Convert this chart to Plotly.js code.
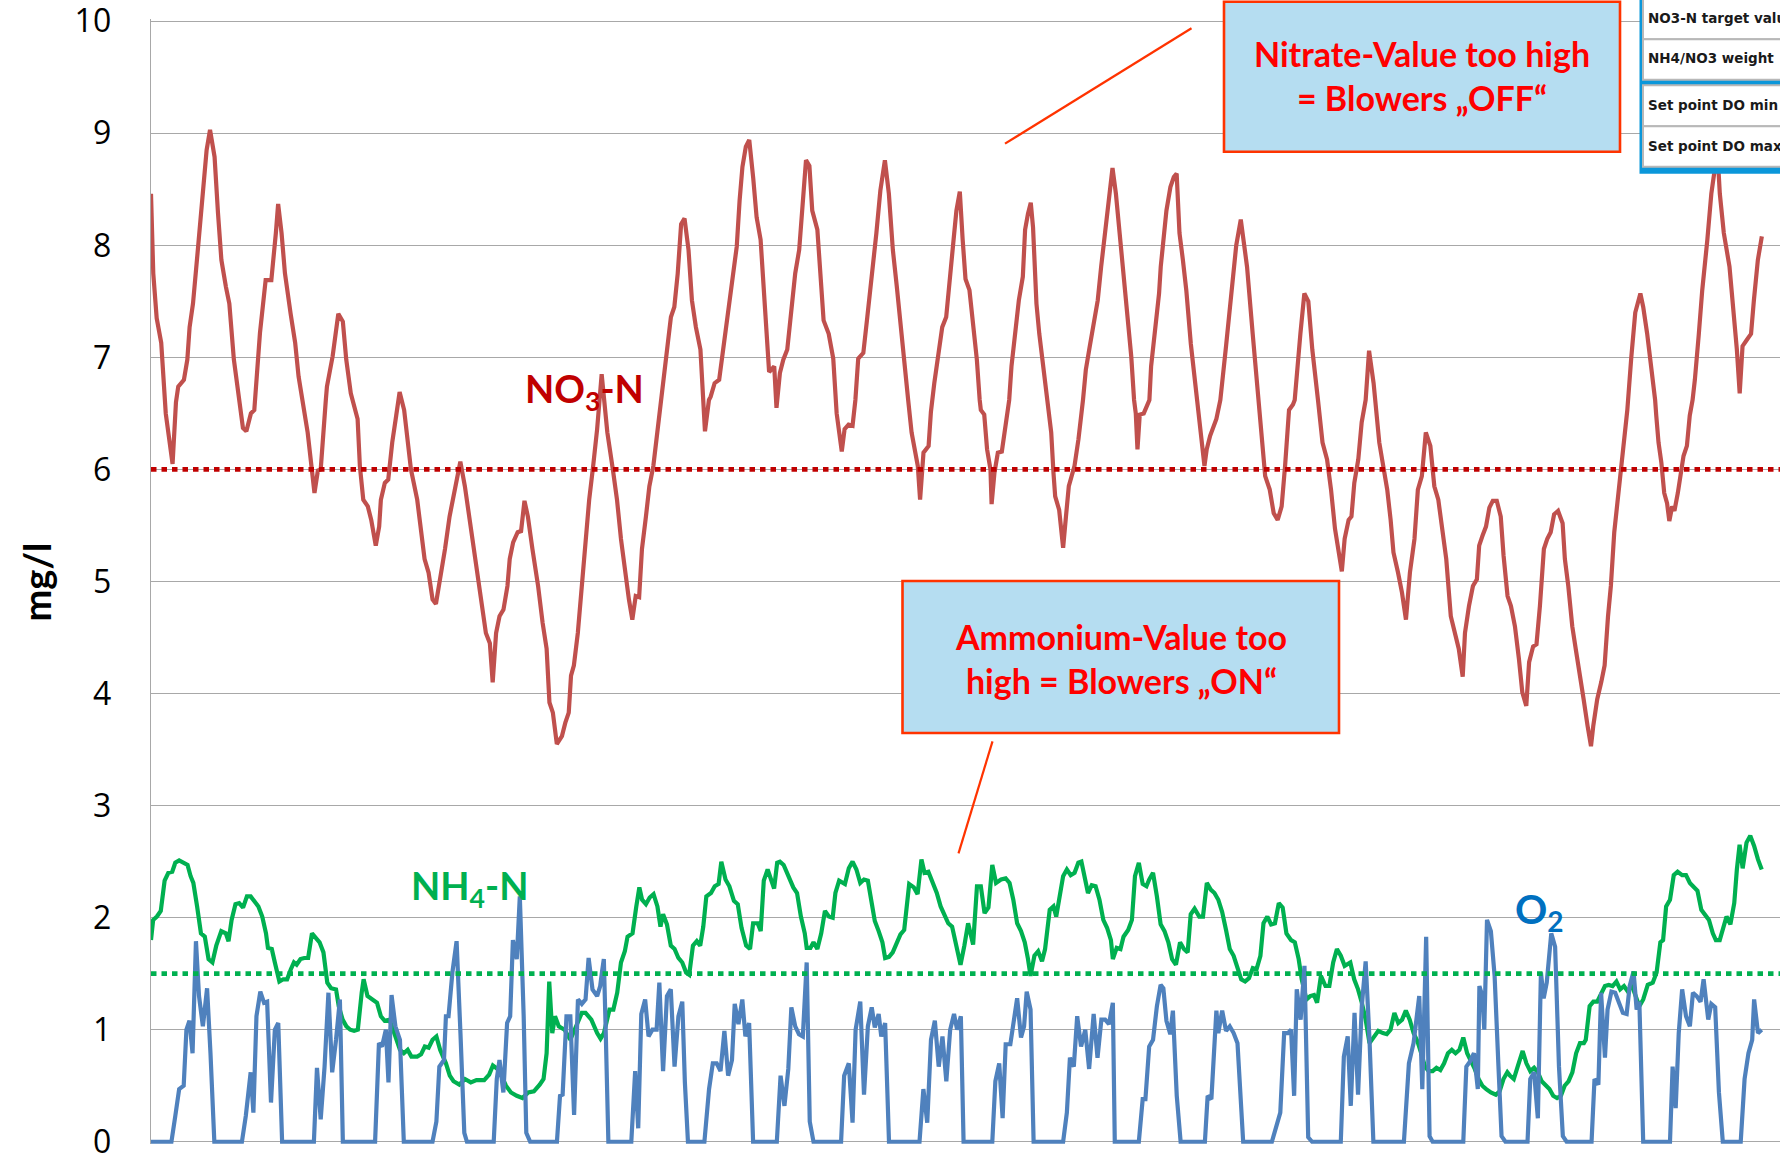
<!DOCTYPE html>
<html><head><meta charset="utf-8">
<script src="https://cdn.plot.ly/plotly-3.0.1.min.js"></script>
<style>html,body{margin:0;padding:0;background:#fff}#chart{width:1780px;height:1156px}</style>
</head><body><div id="chart"></div>
<script>
// ---------- DATA (time in samples, values in mg/l) ----------
const no3Points = [[0,8.46],[2,7.75],[5,7.35],[9,7.13],[13,6.5],[19,6.05],[22,6.6],[24,6.74],[29,6.8],[32,6.98],[34,7.27],[37,7.48],[41,7.93],[44,8.29],[49,8.85],[52,9.03],[56,8.79],[59,8.29],[62,7.87],[66,7.63],[69,7.48],[73,6.98],[78,6.55],[81,6.37],[84,6.34],[88,6.5],[91,6.53],[96,7.22],[101,7.69],[106,7.69],[110,8.11],[112,8.37],[115,8.11],[118,7.75],[123,7.39],[127,7.13],[130,6.83],[133,6.62],[138,6.33],[142,5.97],[144,5.79],[147,5.99],[149.5,6.0],[154,6.62],[155,6.74],[160,7.01],[165,7.39],[169,7.32],[172,6.98],[176,6.68],[182,6.45],[184,6.03],[187,5.73],[191,5.67],[194,5.55],[198,5.32],[201,5.49],[202.5,5.73],[206,5.88],[209,5.91],[212.5,6.24],[216,6.48],[219,6.69],[223,6.53],[226,6.27],[229,6.0],[234.5,5.73],[238,5.47],[241,5.2],[244.5,5.08],[248,4.84],[251,4.8],[255,5.02],[259,5.29],[263,5.58],[268,5.85],[272.5,6.07],[276.5,5.85],[282,5.47],[287,5.11],[292,4.75],[295,4.54],[298.5,4.45],[301,4.1],[304,4.54],[307,4.69],[310.5,4.75],[314,4.96],[316,5.2],[319,5.35],[323,5.44],[326,5.45],[329,5.72],[332,5.58],[336,5.29],[341,4.96],[345,4.63],[348.5,4.4],[351,3.92],[354,3.83],[357.5,3.55],[362,3.62],[365,3.74],[368,3.83],[370,4.16],[372.5,4.25],[376,4.54],[379.5,4.99],[383,5.44],[386,5.73],[389.5,6.03],[393,6.36],[397,6.85],[402,6.33],[407,5.99],[410.5,5.73],[414,5.38],[417.5,5.08],[421,4.84],[424,4.66],[427,4.87],[430,4.86],[432.5,5.29],[436,5.58],[439,5.85],[442.5,6.03],[446,6.33],[449.5,6.62],[451,6.74],[454.5,7.07],[458,7.36],[461,7.45],[464,7.75],[467,8.19],[470,8.24],[473.5,7.96],[476.5,7.51],[480,7.27],[484,7.07],[488,6.34],[491.5,6.62],[493,6.65],[496.5,6.77],[500.5,6.8],[503.5,7.04],[507,7.33],[512,7.72],[516,7.99],[518.5,8.4],[521,8.7],[524,8.88],[527,8.94],[530.5,8.6],[533.5,8.25],[537,8.05],[540,7.57],[542,7.21],[544.5,6.87],[549,6.92],[551,6.55],[554,6.86],[557,6.98],[560.5,7.07],[564,7.39],[567.5,7.75],[571,7.96],[573.5,8.28],[577,8.76],[580,8.71],[582.5,8.31],[587,8.14],[589.5,7.75],[592.5,7.33],[597,7.21],[601,6.99],[604,6.5],[608.5,6.16],[611,6.36],[614.5,6.4],[618,6.39],[620.5,6.62],[623,6.99],[627.5,7.04],[631,7.36],[635,7.72],[639,8.11],[642.5,8.49],[646.5,8.76],[650,8.46],[653.5,7.96],[657,7.63],[660,7.3],[663.5,6.98],[667,6.62],[670,6.33],[672.5,6.21],[675.5,6.03],[677.5,5.73],[680.5,6.15],[685,6.21],[687,6.51],[690,6.77],[694,7.04],[697,7.27],[700.5,7.36],[704,7.69],[707,8.05],[709.5,8.31],[712.5,8.48],[715,8.05],[717.5,7.7],[721,7.6],[724,7.33],[727.5,6.98],[730,6.62],[731,6.53],[734,6.49],[736.5,6.18],[739.5,6.0],[740.5,5.69],[743,5.97],[746,6.15],[749.5,6.16],[753,6.39],[756,6.62],[758,6.92],[761,7.21],[764.5,7.51],[768,7.72],[770,8.14],[772.5,8.28],[775,8.38],[777,8.16],[780,7.48],[782.5,7.21],[786,6.92],[790,6.62],[793,6.33],[795,5.97],[796.5,5.76],[800,5.64],[803.5,5.3],[806,5.58],[808.5,5.85],[813.5,6.03],[817,6.27],[821,6.62],[823.5,6.89],[827,7.1],[830.5,7.33],[834,7.51],[837,7.81],[840.5,8.11],[843,8.28],[844.5,8.46],[847,8.69],[850,8.46],[854,8.05],[857.5,7.63],[861,7.33],[863.5,7.01],[866,6.62],[867.5,6.5],[869,6.18],[871,6.49],[874.5,6.5],[877,6.56],[879.5,6.62],[881,6.92],[884.5,7.24],[888,7.57],[889.5,7.81],[892,8.05],[894.5,8.31],[898,8.52],[901,8.61],[903.5,8.64],[906,8.11],[909,7.87],[912,7.6],[916,7.12],[920,6.75],[924,6.45],[928,6.03],[930,6.18],[933,6.3],[938.5,6.45],[942,6.62],[947,7.1],[952,7.6],[956,8.0],[960,8.23],[965.5,7.81],[970.5,7.21],[975.5,6.62],[979,6.24],[981.5,5.94],[985.5,5.82],[989,5.61],[992.5,5.55],[996,5.67],[999,6.03],[1002.5,6.53],[1006,6.58],[1007.5,6.62],[1012.5,7.21],[1016,7.57],[1019.5,7.5],[1023,7.07],[1028,6.62],[1032,6.24],[1036,6.09],[1039.5,5.82],[1043,5.47],[1046.5,5.26],[1049,5.09],[1051.5,5.38],[1055,5.55],[1057.5,5.58],[1060,5.88],[1063.5,6.09],[1066.5,6.42],[1070,6.62],[1073,7.06],[1077,6.77],[1078.5,6.62],[1082,6.24],[1085,6.06],[1089,5.82],[1092,5.55],[1094.5,5.26],[1098.5,5.08],[1102,4.9],[1105.5,4.66],[1109,5.08],[1113,5.38],[1116,5.82],[1119.5,5.94],[1123,6.33],[1127,6.21],[1130.5,5.85],[1134,5.73],[1137.5,5.49],[1141,5.2],[1145,4.69],[1148.5,4.54],[1152,4.4],[1155.5,4.15],[1157.5,4.54],[1161,4.78],[1164.5,4.96],[1168,5.02],[1170,5.32],[1173,5.41],[1176,5.49],[1179,5.66],[1182,5.72],[1185.5,5.72],[1189,5.58],[1191.5,5.23],[1195,4.87],[1198,4.78],[1201.5,4.6],[1205,4.31],[1208,4.01],[1211.5,3.89],[1214,4.28],[1217.5,4.42],[1220.5,4.44],[1223.5,4.78],[1227,5.29],[1230,5.38],[1233,5.44],[1236,5.6],[1239.5,5.63],[1243.5,5.52],[1245.5,5.2],[1248.5,4.96],[1252,4.6],[1255.5,4.37],[1259,4.16],[1262,3.95],[1265.5,3.71],[1268.5,3.53],[1270.5,3.71],[1274,3.95],[1277.5,4.1],[1280.5,4.25],[1283.5,4.69],[1286,4.96],[1289,5.44],[1292.5,5.79],[1295,6.0],[1297.5,6.27],[1300.5,6.53],[1304,7.0],[1307.5,7.4],[1312,7.57],[1314.5,7.45],[1318,7.21],[1323,6.83],[1325,6.62],[1326,6.48],[1328,6.24],[1330.5,6.06],[1333,5.79],[1335.5,5.7],[1337.5,5.54],[1340,5.67],[1342,5.63],[1345,5.79],[1347.5,5.97],[1350,6.12],[1353,6.21],[1355.5,6.48],[1358,6.62],[1360,6.8],[1363.5,7.21],[1366.5,7.6],[1371,8.05],[1374.5,8.46],[1377,8.64],[1379,9.0],[1382,8.46],[1385.5,8.11],[1390.5,7.81],[1393.5,7.51],[1397,7.07],[1399.5,6.68],[1402,7.1],[1406,7.16],[1409.5,7.21],[1412,7.51],[1415.5,7.87],[1419,8.08]];

const nh4Points = [[0,1.80],[1.9,1.98],[5.2,2.01],[8.6,2.06],[12,2.33],[15.3,2.40],[18.7,2.41],[21.4,2.49],[24.8,2.51],[28.8,2.49],[32.2,2.47],[34.9,2.37],[37.3,2.31],[40.6,2.10],[44,1.86],[47.4,1.83],[50.7,1.63],[54.1,1.60],[57.5,1.75],[61.9,1.88],[65.9,1.86],[68.3,1.79],[71,1.98],[74.4,2.12],[77.7,2.13],[81.1,2.09],[84.5,2.19],[87.8,2.19],[91.2,2.15],[94.6,2.10],[98,2.01],[101.3,1.86],[103,1.73],[106.4,1.72],[109.1,1.60],[111.4,1.48],[113.1,1.43],[116.5,1.45],[119.9,1.45],[123.2,1.54],[125.9,1.60],[128.3,1.58],[131.7,1.63],[135,1.64],[138.4,1.64],[141.8,1.86],[145.2,1.82],[148.5,1.78],[151.9,1.69],[155.3,1.42],[158.6,1.37],[163,1.36],[165.4,1.21],[168.8,1.09],[172.1,1.03],[175.5,1.00],[178.9,0.99],[182.2,1.00],[185.6,1.33],[187.3,1.45],[190.7,1.30],[194,1.28],[199.1,1.24],[202.5,1.12],[205.8,1.08],[210.2,1.09],[214.3,0.97],[219.3,0.82],[222.7,0.79],[226.1,0.82],[229.4,0.76],[234.5,0.76],[237.9,0.78],[241.2,0.85],[244.6,0.84],[248,0.91],[251.4,0.94],[254.7,0.82],[259.8,0.70],[263.2,0.59],[266.5,0.54],[271.6,0.51],[276.6,0.56],[281.7,0.53],[286.7,0.55],[293.5,0.55],[297.9,0.60],[301.2,0.68],[305.3,0.65],[308.7,0.59],[312.7,0.50],[317.1,0.44],[322.2,0.41],[327.2,0.39],[332.3,0.44],[337.3,0.45],[342.4,0.51],[345.8,0.56],[348.5,0.79],[350.8,1.43],[353.5,0.97],[355.9,1.12],[359.2,1.03],[364.3,1.00],[369.4,0.91],[374.4,1.03],[379.5,1.15],[382.8,1.15],[387.9,1.09],[393,0.97],[396,0.92],[399,0.97],[403.9,1.18],[407.3,1.18],[410.7,1.33],[414,1.60],[417.4,1.70],[419.8,1.83],[424.2,1.86],[427.5,2.10],[430.2,2.27],[432.6,2.16],[436,2.12],[439.3,2.18],[442.7,2.21],[446.1,2.10],[448.8,1.92],[451.1,2.03],[454.5,1.94],[457.9,1.75],[461.2,1.72],[464.6,1.64],[468,1.60],[471.4,1.51],[474.1,1.49],[477.4,1.75],[480.8,1.79],[483.8,1.75],[486.5,1.92],[489.2,2.19],[493.3,2.22],[496.6,2.28],[500,2.30],[502.4,2.50],[506.1,2.34],[509.5,2.28],[513.5,2.15],[516.9,2.12],[520.2,1.91],[524.3,1.75],[527.7,1.72],[530.4,1.95],[534.4,1.95],[537.1,1.88],[539.8,2.33],[543.2,2.43],[546.5,2.34],[548.9,2.26],[551.6,2.49],[554,2.50],[557.3,2.47],[561.4,2.37],[565.8,2.27],[569.1,2.22],[572.5,2.01],[575.9,1.86],[577.6,1.73],[580.9,1.73],[583.6,1.78],[587,1.72],[590.4,1.86],[593.7,2.06],[597.1,2.01],[600.5,2.00],[602.9,2.22],[606.2,2.33],[611.3,2.30],[614.7,2.44],[618,2.50],[621.4,2.43],[624.8,2.31],[628.1,2.34],[631.5,2.33],[634.9,2.13],[637.6,1.97],[641,1.88],[644.3,1.78],[646.7,1.64],[650.1,1.65],[653.4,1.69],[656.8,1.78],[660.2,1.85],[663.5,1.89],[667.9,2.30],[672,2.27],[675.3,2.21],[678.7,2.52],[681.4,2.40],[684.8,2.41],[688.1,2.33],[692.2,2.22],[695.6,2.10],[699,2.03],[702.3,1.95],[705.7,1.92],[709.1,1.75],[713.1,1.58],[716.5,1.75],[719.8,1.95],[724.2,1.76],[727.6,2.28],[731,2.28],[734.3,2.04],[737.7,2.09],[741.1,2.47],[744.4,2.31],[748.8,2.34],[752.9,2.35],[756.3,2.31],[759.6,2.16],[763,1.95],[766.4,1.88],[769.7,1.78],[772.4,1.64],[774.8,1.48],[778.2,1.66],[781.5,1.70],[784.9,1.61],[787.6,1.72],[791.7,2.07],[795,2.10],[797.4,2.01],[800.1,2.16],[803.5,2.37],[806.8,2.43],[810.2,2.38],[813.6,2.40],[816.9,2.49],[819.6,2.50],[822,2.38],[825.4,2.22],[828.7,2.29],[832.1,2.28],[835.5,2.16],[838.9,1.98],[842.2,1.91],[845.6,1.80],[847.3,1.63],[850.7,1.73],[854,1.72],[856.7,1.83],[860.8,1.89],[864.1,1.98],[866.8,2.37],[870.2,2.49],[873.6,2.30],[876.9,2.28],[879.3,2.34],[882.7,2.40],[886.1,2.19],[889.4,1.94],[892.8,1.88],[896.2,1.78],[899.5,1.63],[902.9,1.58],[906.5,1.78],[909.9,1.72],[913.2,1.69],[915.9,2.03],[919.3,2.08],[923.4,2.01],[926.7,2.01],[930.1,2.31],[933.5,2.25],[936.8,2.22],[940.2,2.16],[943.6,2.05],[947,1.89],[950.3,1.72],[953.7,1.66],[957.1,1.54],[960.4,1.45],[963.8,1.43],[967.2,1.46],[970.6,1.55],[973.9,1.54],[977.3,1.66],[980,1.95],[983.4,2.01],[986.7,1.94],[990.1,1.95],[993.5,2.13],[996.9,2.09],[1000.2,1.86],[1004.3,1.80],[1007.6,1.78],[1011,1.63],[1013.7,1.45],[1017.8,1.27],[1021.1,1.30],[1024.5,1.31],[1027.2,1.24],[1030.6,1.48],[1034.6,1.39],[1038,1.39],[1041.4,1.60],[1044.7,1.72],[1048.1,1.66],[1051.5,1.57],[1056.5,1.60],[1059.9,1.45],[1063.3,1.36],[1066.6,1.24],[1070,1.09],[1073.4,0.88],[1076.8,0.93],[1081.1,0.99],[1085.2,0.97],[1088.6,0.96],[1091.9,1.00],[1095.3,1.15],[1098.7,1.06],[1102.1,1.09],[1105.4,1.17],[1108.8,1.09],[1112.2,0.97],[1115.5,0.90],[1118.9,0.79],[1122.3,0.67],[1125.6,0.63],[1129,0.63],[1132.4,0.66],[1135.8,0.64],[1139.1,0.70],[1142.5,0.79],[1145.9,0.82],[1149.2,0.79],[1152.6,0.82],[1156,0.93],[1159.4,0.79],[1162.7,0.73],[1166.1,0.65],[1169.5,0.56],[1172.8,0.50],[1176.2,0.47],[1180.3,0.44],[1184.7,0.42],[1188,0.45],[1191.4,0.56],[1194.8,0.62],[1197.1,0.59],[1200.5,0.56],[1203.9,0.67],[1208.3,0.81],[1211.6,0.70],[1215,0.63],[1218.4,0.66],[1221.7,0.62],[1225.1,0.54],[1228.5,0.50],[1231.9,0.47],[1235.2,0.41],[1238.6,0.39],[1242,0.41],[1245.3,0.50],[1248.7,0.54],[1252.1,0.62],[1255.4,0.79],[1258.8,0.88],[1262.2,0.88],[1263.9,0.91],[1267.3,1.21],[1270.6,1.25],[1274,1.25],[1277.4,1.33],[1280.8,1.39],[1284.1,1.40],[1287.5,1.39],[1290.9,1.43],[1294.2,1.36],[1297.6,1.39],[1301,1.34],[1304.3,1.40],[1307.7,1.31],[1311.1,1.21],[1314.5,1.27],[1318.5,1.40],[1322.9,1.42],[1326.3,1.51],[1329.6,1.78],[1332,1.80],[1334.7,2.10],[1338.1,2.16],[1341.4,2.38],[1344.8,2.41],[1348.8,2.38],[1352.2,2.38],[1355.6,2.31],[1358.3,2.28],[1362.3,2.24],[1365.7,2.07],[1369.1,2.03],[1372.4,1.98],[1375.8,1.86],[1378.5,1.80],[1381.9,1.80],[1385.2,1.91],[1387.9,2.01],[1391.3,1.94],[1394.7,2.13],[1397,2.43],[1399.4,2.65],[1402.1,2.44],[1405.5,2.67],[1408.8,2.73],[1412.2,2.64],[1415.6,2.52],[1418.9,2.43]];

const o2Points = [[0,0],[18,0],[21.4,0.23],[24.8,0.47],[28.8,0.50],[31.2,1.00],[33.9,1.08],[36.6,0.79],[39.6,1.79],[42.3,1.30],[45.7,1.03],[49.4,1.37],[52.4,0.79],[55.8,0],[80.1,0],[83.5,0.23],[87.8,0.62],[90.2,0.26],[92.9,1.12],[96.3,1.34],[99.6,1.24],[102.3,1.25],[105.7,0.35],[109.1,1.00],[112.1,1.06],[115.5,0],[143.5,0],[146.2,0.66],[149.5,0.20],[152.9,0.67],[156.3,1.33],[159.6,0.62],[163,0.91],[166.4,1.27],[169,0],[197.4,0],[200.8,0.88],[203.5,0.85],[206.9,1.00],[209.2,0.53],[211.9,1.31],[215.3,1.03],[219.3,0.91],[222.7,0],[248,0],[251.4,0.18],[254,0.67],[258.1,0.73],[259.8,1.12],[262.1,1.12],[265.5,1.51],[269.2,1.79],[272.6,0.97],[276,0.08],[278.3,0],[301.9,0],[304.6,0.56],[307,0.73],[310.4,0.44],[313.7,1.06],[316.4,1.12],[318.8,1.80],[322.2,1.63],[324.9,2.19],[328.3,1.12],[330.6,0.08],[334,0],[357.6,0],[360.3,0.41],[362.6,0.42],[366,1.12],[369.4,1.12],[372.7,0.24],[376.1,1.27],[379.5,1.23],[382.8,1.27],[385.5,1.64],[388.9,1.36],[393,1.30],[395.7,1.39],[397.2,1.51],[398.9,1.63],[400.6,0.97],[402.9,0],[423.1,0],[426.5,0.63],[429.2,0.12],[431.9,1.14],[435.3,1.27],[438.3,0.94],[441.7,1.00],[445.4,1.00],[447.8,1.42],[451.1,0.63],[454.5,1.30],[457.9,1.36],[461.2,0.67],[464.6,1.12],[468,1.25],[470.3,0.53],[473,0],[487.5,0],[491.6,0.47],[494.9,0.70],[498.3,0.70],[501.7,0.63],[505.1,0.99],[508.4,0.59],[511.8,0.73],[514.2,1.23],[517.5,1.05],[520.9,1.27],[523.6,0.94],[526.9,1.06],[530.4,0],[551.3,0],[554.6,0.59],[558,0.32],[561.4,0.65],[564.1,1.20],[567.5,1.03],[570.8,0.96],[574.2,0.94],[577.6,1.60],[580.3,0.18],[583.6,0],[607.9,0],[610.6,0.59],[614.7,0.70],[618,0.17],[620.7,1.00],[624.8,1.25],[628.1,0.42],[631.5,1.03],[634.9,1.20],[637.6,1.02],[641,1.14],[643.3,0.94],[646.7,1.06],[650.1,0],[677,0],[680.4,0.47],[683.8,0.17],[687.1,0.91],[690.5,1.08],[693.9,0.67],[697.2,0.94],[700.6,0.54],[704,1.00],[707.4,1.14],[710.1,1.00],[713.4,1.12],[715.8,0],[741.1,0],[743.8,0.54],[747.2,0.70],[750.2,0.21],[752.9,0.87],[757,0.87],[759.7,1.03],[763,1.28],[766.4,0.93],[769.1,1.03],[771.4,1.34],[774.8,1.18],[777.5,0],[803.5,0],[806.8,0.26],[809.5,0.75],[812.9,0.67],[815.9,1.12],[819.3,0.85],[823,1.00],[826.4,0.65],[830.4,1.14],[833.8,0.75],[837.2,1.09],[840.5,1.09],[843.9,1.05],[847.3,1.24],[849,0],[870.2,0],[873.6,0.38],[876,0.38],[879.3,0.85],[882.7,0.91],[886.1,1.21],[889.4,1.40],[891.8,1.37],[894.5,1.08],[897.9,0.96],[900.2,1.17],[903.6,0.41],[907,0],[928.4,0],[930.8,0.41],[934.1,0.38],[938.5,1.17],[940.2,0.97],[943.6,1.17],[947,0.99],[950.3,1.03],[953.7,0.97],[957.1,0.88],[962.1,0],[987.4,0],[990.8,0.11],[994.8,0.26],[998.2,0.97],[1001.6,0.97],[1004.3,1.00],[1007,0.41],[1009.3,1.36],[1012.7,1.09],[1016.1,1.57],[1019.4,0.04],[1022.8,0],[1048.1,0],[1050.8,0.76],[1054.2,0.94],[1056.9,0.32],[1060.2,1.15],[1063.3,0.42],[1066.6,1.21],[1070,1.61],[1073.4,0.91],[1076.8,0],[1103.7,0],[1108.1,0.70],[1112.2,0.88],[1117.2,1.30],[1119.9,0.47],[1123.3,1.83],[1126.3,0.05],[1129,0],[1156,0],[1158.7,0.67],[1162.1,0.72],[1165.4,0.79],[1168.8,0.47],[1170.2,1.39],[1172.8,1.30],[1174.5,1.00],[1176.9,1.98],[1180.3,1.88],[1183.6,1.48],[1187,0.67],[1189.7,0.05],[1193.1,0],[1212.6,0],[1215,0.56],[1218.4,0.62],[1221.7,0.21],[1224.4,1.51],[1226.8,1.28],[1229.5,1.42],[1233.5,1.86],[1236.9,1.74],[1240.3,0.67],[1243.7,0.05],[1247,0],[1269,0],[1271.6,0.56],[1275,0.51],[1277.4,1.33],[1280.8,0.75],[1283.1,1.18],[1286.5,1.34],[1289.8,1.33],[1293.2,1.24],[1296.6,1.15],[1299.9,1.14],[1302.6,1.39],[1306,1.52],[1308.7,1.18],[1311.1,1.25],[1314.5,0],[1338.1,0],[1340.4,0.67],[1343.1,0.30],[1345.8,0.97],[1348.8,1.36],[1352.2,1.12],[1355.6,1.03],[1358.3,1.33],[1361.6,1.30],[1365,1.25],[1367.7,1.45],[1371.8,1.09],[1374.5,1.23],[1377.9,1.20],[1381.2,0.44],[1384.6,0],[1400.4,0],[1403.8,0.56],[1407.2,0.79],[1410.5,0.91],[1412.2,1.27],[1415.6,0.97],[1418.9,1.00]];

const targetNames = ['NO3-N target', 'NH4-N target'];
const targetValues = [6.0, 1.5];
const yTicks = [0,1,2,3,4,5,6,7,8,9,10];
const insetRows = ['NO3-N target value', 'NH4/NO3 weight', 'Set point DO min', 'Set point DO max'];
const timeRange = [0, 1435];

// ---------- LAYOUT HELPERS (pixel -> paper) ----------
const W = 1780, H = 1156;
const PAD = 0.02;                    // small value-axis padding so 0 and 10 keep grid + labels
const UNIT = 112.1;                  // px per mg/l
const ML = 151, MR = 0, MT = 21 - PAD * UNIT, MB = 14 - PAD * UNIT;
const PW = W - ML - MR, PH = H - MT - MB;
const px = x => (x - ML) / PW;
const py = y => (H - MB - y) / PH;

const xs = pts => pts.map(p => p[0]);
const ys = pts => pts.map(p => p[1]);

const traces = [
  {x: xs(no3Points), y: ys(no3Points), type: 'scatter', mode: 'lines', name: 'NO3-N',
   line: {color: '#c0504d', width: 4.2}, hoverinfo: 'skip'},
  {x: xs(nh4Points), y: ys(nh4Points), type: 'scatter', mode: 'lines', name: 'NH4-N',
   line: {color: '#00b050', width: 4.2}, hoverinfo: 'skip'},
  {x: xs(o2Points), y: ys(o2Points), type: 'scatter', mode: 'lines', name: 'O2',
   line: {color: '#4f81bd', width: 4.2}, hoverinfo: 'skip'},
  {x: timeRange, y: [targetValues[0], targetValues[0]], type: 'scatter', mode: 'lines', name: targetNames[0],
   line: {color: '#c00000', width: 4.8, dash: '5.5px,5px'}, hoverinfo: 'skip'},
  {x: timeRange, y: [targetValues[1], targetValues[1]], type: 'scatter', mode: 'lines', name: targetNames[1],
   line: {color: '#00b050', width: 4.8, dash: '5.5px,5px'}, hoverinfo: 'skip'}
];

const boxFill = '#b5ddf1', boxLine = '#ff3300';
const shapes = [
  {type:'rect', xref:'paper', yref:'paper', layer:'above', x0:px(1224), x1:px(1620), y0:py(1.5), y1:py(151.5),
   fillcolor: boxFill, line:{color: boxLine, width: 2.6}},
  {type:'rect', xref:'paper', yref:'paper', layer:'above', x0:px(902.5), x1:px(1339), y0:py(581), y1:py(733),
   fillcolor: boxFill, line:{color: boxLine, width: 2.6}},
  {type:'line', xref:'paper', yref:'paper', layer:'above', x0:px(1005), y0:py(143.5), x1:px(1191.5), y1:py(28),
   line:{color: boxLine, width: 2.2}},
  {type:'line', xref:'paper', yref:'paper', layer:'above', x0:px(992.5), y0:py(741.5), x1:px(958.5), y1:py(853.5),
   line:{color: boxLine, width: 2.2}},
  // inset panel
  {type:'rect', xref:'paper', yref:'paper', layer:'above', x0:px(1639.5), x1:px(1800), y0:py(-10), y1:py(173.5),
   fillcolor:'#0b97da', line:{width:0}},
  {type:'rect', xref:'paper', yref:'paper', layer:'above', x0:px(1643), x1:px(1800), y0:py(-10), y1:py(39),
   fillcolor:'#ffffff', line:{color:'#b8b8b8', width:2}},
  {type:'rect', xref:'paper', yref:'paper', layer:'above', x0:px(1643), x1:px(1800), y0:py(39), y1:py(79.5),
   fillcolor:'#ffffff', line:{color:'#b8b8b8', width:2}},
  {type:'rect', xref:'paper', yref:'paper', layer:'above', x0:px(1643), x1:px(1800), y0:py(85), y1:py(126),
   fillcolor:'#ffffff', line:{color:'#b8b8b8', width:2}},
  {type:'rect', xref:'paper', yref:'paper', layer:'above', x0:px(1643), x1:px(1800), y0:py(126), y1:py(166.5),
   fillcolor:'#ffffff', line:{color:'#b8b8b8', width:2}}
];

const ann = (o) => Object.assign({xref:'paper', yref:'paper', showarrow:false}, o);
const insetY = [18, 58, 104.5, 145.5];
const annotations = [
  ann({x: px(35.5), y: py(582), text: '<b>mg/l</b>', textangle: -90, xanchor: 'center', yanchor: 'middle',
       font: {family: 'Lato', size: 38, color: '#000'}}),
  ann({x: px(523), y: py(363), text: '<b>NO<sub>3</sub>-N</b>', xanchor: 'left', yanchor: 'top',
       font: {family: 'Lato', size: 38, color: '#c00000'}}),
  ann({x: px(409), y: py(860), text: '<b>NH<sub>4</sub>-N</b>', xanchor: 'left', yanchor: 'top',
       font: {family: 'Lato', size: 38, color: '#00b050'}}),
  ann({x: px(1513), y: py(883), text: '<b>O<sub>2</sub></b>', xanchor: 'left', yanchor: 'top',
       font: {family: 'Lato', size: 40, color: '#0070c0'}}),
  ann({x: px(1422), y: py(30.5), text: '<b>Nitrate-Value too high<br>= Blowers „OFF“</b>', xanchor: 'center', yanchor: 'top',
       align: 'center', font: {family: 'Lato', size: 34, color: '#ff0000'}}),
  ann({x: px(1120.5), y: py(614), text: '<b>Ammonium-Value too<br>high = Blowers „ON“</b>', xanchor: 'center', yanchor: 'top',
       align: 'center', font: {family: 'Lato', size: 34, color: '#ff0000'}})
].concat(insetRows.map((r, i) => ann({x: px(1646), y: py(insetY[i]), text: '<b>' + r + '</b>', xanchor: 'left', yanchor: 'middle',
       font: {family: 'DejaVu Sans', size: 13.5, color: '#1a1a1a'}})));

const layout = {
  width: W, height: H,
  margin: {l: ML, r: MR, t: MT, b: MB, pad: 0},
  paper_bgcolor: '#ffffff', plot_bgcolor: '#ffffff',
  showlegend: false,
  xaxis: {range: timeRange, showgrid: false, zeroline: false, showline: false, showticklabels: false, ticks: ''},
  yaxis: {range: [-PAD, 10 + PAD], tickvals: yTicks, ticktext: yTicks.map(String),
          showgrid: true, gridcolor: '#a8a8a8', gridwidth: 1.4,
          zeroline: true, zerolinecolor: '#a8a8a8', zerolinewidth: 1.4,
          showline: true, linecolor: '#a8a8a8', linewidth: 1.4, ticks: '', ticklabelstandoff: 32,
          ticklabeloverflow: 'allow',
          tickfont: {family: 'Open Sans', size: 32, color: '#000'}},
  shapes: shapes,
  annotations: annotations
};

Plotly.newPlot('chart', traces, layout, {displayModeBar: false, staticPlot: true});
</script>
</body></html>
